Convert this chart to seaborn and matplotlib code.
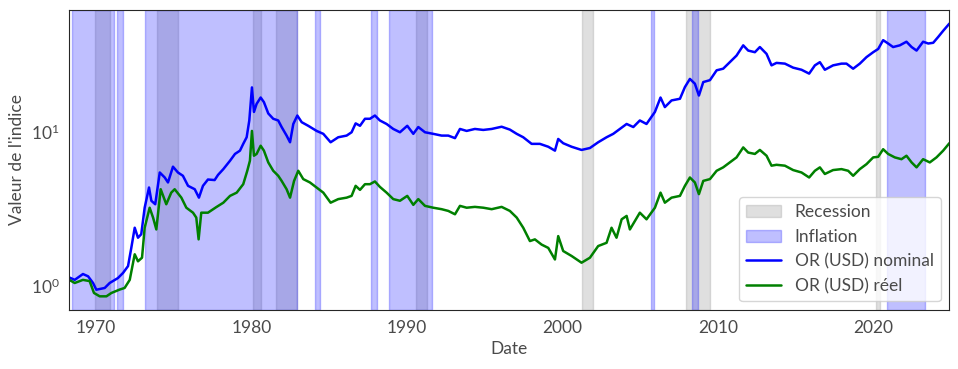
import numpy as np
import pandas as pd
import matplotlib
matplotlib.use("Agg")
import matplotlib.pyplot as plt
import seaborn as sns

# Gold index, nominal (decimal years)
nominal_dates = [1968.28, 1968.63, 1969.16, 1969.49, 1969.81, 1970.02, 1970.56, 1970.88,
                 1971.41, 1971.74, 1972.06, 1972.27, 1972.49, 1972.70, 1972.91, 1973.13,
                 1973.41, 1973.56, 1973.81, 1974.10, 1974.42, 1974.63, 1974.95, 1975.27,
                 1975.59, 1975.92, 1976.35, 1976.62, 1976.88, 1977.20, 1977.63, 1977.85,
                 1978.19, 1978.62, 1978.94, 1979.26, 1979.47, 1979.69, 1979.86, 1980.03,
                 1980.16, 1980.33, 1980.59, 1980.80, 1981.08, 1981.40, 1981.72, 1981.94,
                 1982.26, 1982.48, 1982.69, 1982.95, 1983.23, 1983.65, 1984.19, 1984.62,
                 1985.09, 1985.58, 1986.12, 1986.44, 1986.70, 1986.98, 1987.30, 1987.62,
                 1987.94, 1988.26, 1988.69, 1989.12, 1989.55, 1990.02, 1990.41, 1990.73,
                 1991.16, 1991.69, 1992.23, 1992.66, 1993.09, 1993.41, 1993.84, 1994.37,
                 1994.91, 1995.45, 1996.09, 1996.62, 1997.06, 1997.48, 1998.02, 1998.55,
                 1999.09, 1999.52, 1999.73, 2000.05, 2000.59, 2001.23, 2001.77, 2002.30,
                 2002.84, 2003.27, 2003.70, 2004.13, 2004.56, 2004.98, 2005.41, 2005.95,
                 2006.31, 2006.59, 2007.02, 2007.56, 2007.88, 2008.20, 2008.52, 2008.78,
                 2009.06, 2009.49, 2009.92, 2010.34, 2010.77, 2011.20, 2011.63, 2011.95,
                 2012.38, 2012.70, 2013.13, 2013.45, 2013.77, 2014.31, 2014.84, 2015.38,
                 2015.87, 2016.24, 2016.56, 2016.88, 2017.41, 2017.95, 2018.27, 2018.70,
                 2019.13, 2019.56, 2019.99, 2020.31, 2020.63, 2020.95, 2021.27, 2021.70,
                 2022.13, 2022.46, 2022.78, 2023.20, 2023.53, 2023.85, 2024.17, 2024.49,
                 2024.89]
nominal_values = [1.14, 1.10, 1.20, 1.16, 1.05, 0.95, 0.975, 1.05,
                  1.13, 1.22, 1.35, 1.77, 2.39, 2.06, 2.17, 3.22,
                  4.35, 3.57, 3.39, 5.44, 5.05, 4.69, 5.93, 5.44,
                  5.18, 4.46, 4.24, 3.74, 4.46, 4.90, 4.86, 5.25,
                  5.72, 6.48, 7.17, 7.53, 8.33, 9.19, 11.8, 19.3,
                  13.4, 15.1, 16.6, 15.5, 13.1, 12.1, 11.8, 10.7,
                  9.42, 8.53, 11.2, 12.7, 11.5, 10.9, 10.1, 9.67,
                  8.53, 9.19, 9.42, 9.90, 11.3, 10.9, 12.1, 12.1,
                  12.7, 11.8, 11.2, 10.4, 9.90, 10.9, 9.67, 10.7,
                  9.90, 9.67, 9.42, 9.42, 9.07, 10.4, 10.1, 10.4,
                  10.25, 10.4, 10.75, 10.3, 9.67, 9.19, 8.33, 8.33,
                  7.98, 7.53, 8.96, 8.41, 7.98, 7.61, 7.83, 8.53,
                  9.19, 9.67, 10.4, 11.2, 10.7, 11.8, 11.2, 13.4,
                  16.6, 14.4, 15.9, 16.3, 19.4, 21.9, 20.4, 17.1,
                  20.9, 21.5, 24.9, 25.5, 28.1, 31.0, 36.1, 33.4,
                  32.6, 35.2, 31.8, 26.8, 27.8, 27.5, 25.9, 25.1,
                  23.7, 26.8, 28.1, 25.1, 26.8, 27.5, 27.5, 25.5,
                  27.5, 30.3, 32.6, 34.2, 39.0, 37.1, 35.2, 36.1,
                  38.1, 35.2, 33.4, 38.1, 37.1, 37.5, 40.9, 44.8,
                  49.9]

# Gold index, real (inflation adjusted)
real_dates = [1968.28, 1968.63, 1969.16, 1969.59, 1969.87, 1970.24, 1970.67, 1970.99,
              1971.52, 1971.84, 1972.17, 1972.49, 1972.70, 1972.96, 1973.13, 1973.45,
              1973.67, 1973.88, 1974.16, 1974.52, 1974.84, 1975.06, 1975.49, 1975.81,
              1976.24, 1976.45, 1976.60, 1976.77, 1977.20, 1977.74, 1978.19, 1978.62,
              1979.05, 1979.47, 1979.73, 1979.90, 1980.03, 1980.16, 1980.33, 1980.59,
              1980.80, 1981.08, 1981.40, 1981.72, 1981.94, 1982.26, 1982.48, 1982.74,
              1983.01, 1983.33, 1983.76, 1984.19, 1984.62, 1985.09, 1985.58, 1986.12,
              1986.44, 1986.70, 1986.98, 1987.30, 1987.62, 1987.94, 1988.26, 1988.69,
              1989.12, 1989.55, 1990.02, 1990.41, 1990.73, 1991.16, 1991.69, 1992.23,
              1992.66, 1993.09, 1993.41, 1993.84, 1994.37, 1994.91, 1995.45, 1996.09,
              1996.62, 1997.06, 1997.48, 1997.91, 1998.23, 1998.66, 1999.09, 1999.52,
              1999.73, 2000.05, 2000.59, 2001.23, 2001.77, 2002.30, 2002.84, 2003.16,
              2003.48, 2003.81, 2004.13, 2004.34, 2004.66, 2004.98, 2005.41, 2005.95,
              2006.31, 2006.59, 2007.02, 2007.56, 2007.88, 2008.20, 2008.52, 2008.78,
              2009.06, 2009.49, 2009.92, 2010.34, 2010.77, 2011.20, 2011.63, 2011.95,
              2012.38, 2012.70, 2013.13, 2013.45, 2013.77, 2014.31, 2014.84, 2015.38,
              2015.87, 2016.24, 2016.56, 2016.88, 2017.41, 2017.95, 2018.38, 2018.70,
              2019.13, 2019.56, 2019.99, 2020.31, 2020.63, 2020.95, 2021.38, 2021.81,
              2022.13, 2022.46, 2022.78, 2023.20, 2023.63, 2024.06, 2024.49, 2024.89]
real_values = [1.10, 1.05, 1.10, 1.08, 0.905, 0.861, 0.861, 0.905,
               0.952, 0.975, 1.10, 1.61, 1.45, 1.53, 2.39, 3.22,
               2.78, 2.33, 4.24, 3.39, 4.03, 4.24, 3.74, 3.22,
               2.99, 2.78, 2.01, 2.99, 2.99, 3.25, 3.47, 3.84,
               4.03, 4.57, 5.58, 6.48, 10.1, 6.98, 7.17, 8.10,
               7.53, 6.32, 5.58, 5.18, 4.80, 4.24, 3.74, 4.80,
               5.58, 4.93, 4.69, 4.35, 4.03, 3.47, 3.66, 3.74,
               3.84, 4.46, 4.20, 4.57, 4.57, 4.76, 4.39, 4.03,
               3.66, 3.57, 3.84, 3.36, 3.66, 3.31, 3.22, 3.15,
               3.07, 2.92, 3.31, 3.22, 3.26, 3.22, 3.15, 3.26,
               3.07, 2.78, 2.39, 1.96, 2.01, 1.86, 1.77, 1.49,
               2.11, 1.69, 1.57, 1.42, 1.53, 1.82, 1.91, 2.39,
               2.06, 2.71, 2.85, 2.33, 2.64, 2.99, 2.71, 3.22,
               4.03, 3.47, 3.74, 3.84, 4.46, 5.05, 4.69, 3.94,
               4.80, 4.93, 5.58, 5.87, 6.32, 6.81, 7.90, 7.32,
               7.17, 7.61, 6.98, 6.02, 6.10, 6.02, 5.64, 5.44,
               5.05, 5.58, 5.87, 5.32, 5.64, 5.72, 5.58, 5.18,
               5.72, 6.16, 6.81, 6.87, 7.69, 7.17, 6.81, 6.63,
               6.98, 6.32, 5.87, 6.63, 6.32, 6.81, 7.53, 8.42]

# Shaded periods (start, end) in decimal years
recession_periods = [(1969.95, 1970.90), (1973.92, 1975.25), (1980.10, 1980.61),
                     (1981.58, 1982.91), (1990.58, 1991.27), (2001.25, 2001.94),
                     (2007.98, 2009.50), (2020.16, 2020.42)]
inflation_periods = [(1968.44, 1971.18), (1971.33, 1971.72), (1973.15, 1982.91),
                     (1984.08, 1984.41), (1987.68, 1988.05), (1988.86, 1991.59),
                     (2005.67, 2005.88), (2008.36, 2008.75), (2020.89, 2023.31)]

sns.set_style("white")
plt.rcParams['font.family'] = ['Lato', 'DejaVu Sans']
plt.rcParams['mathtext.fontset'] = 'custom'
plt.rcParams['mathtext.rm'] = 'Lato'
plt.rcParams['mathtext.it'] = 'Lato'

text_col = '#4a4a4a'

fig, ax = plt.subplots(figsize=(9.58, 3.69), dpi=100)
fig.subplots_adjust(left=0.0723, right=0.991, top=0.973, bottom=0.160)

for i, (a, b) in enumerate(recession_periods):
    ax.axvspan(a, b, color='grey', alpha=0.25, label='Recession' if i == 0 else None)
for i, (a, b) in enumerate(inflation_periods):
    ax.axvspan(a, b, color='blue', alpha=0.25, label='Inflation' if i == 0 else None)

nom = pd.DataFrame({'Date': nominal_dates, 'Valeur': nominal_values})
real = pd.DataFrame({'Date': real_dates, 'Valeur': real_values})
sns.lineplot(data=nom, x='Date', y='Valeur', color='blue', linewidth=1.8,
             label='OR (USD) nominal', ax=ax)
sns.lineplot(data=real, x='Date', y='Valeur', color='green', linewidth=1.8,
             label='OR (USD) réel', ax=ax)

ax.set_yscale('log')
ax.set_xlim(nominal_dates[0], nominal_dates[-1])
ax.set_xticks([1970, 1980, 1990, 2000, 2010, 2020])
ax.set_xticklabels(['1970', '1980', '1990', '2000', '2010', '2020'])
ax.tick_params(axis='both', labelsize=12.5, colors=text_col)
ax.set_xlabel('Date', fontsize=12.5, color=text_col)
ax.set_ylabel("Valeur de l'indice", fontsize=12.5, color=text_col)

leg = ax.legend(loc='lower right', fontsize=12.5)
for t in leg.get_texts():
    t.set_color(text_col)

fig.savefig('out.png', dpi=100)
